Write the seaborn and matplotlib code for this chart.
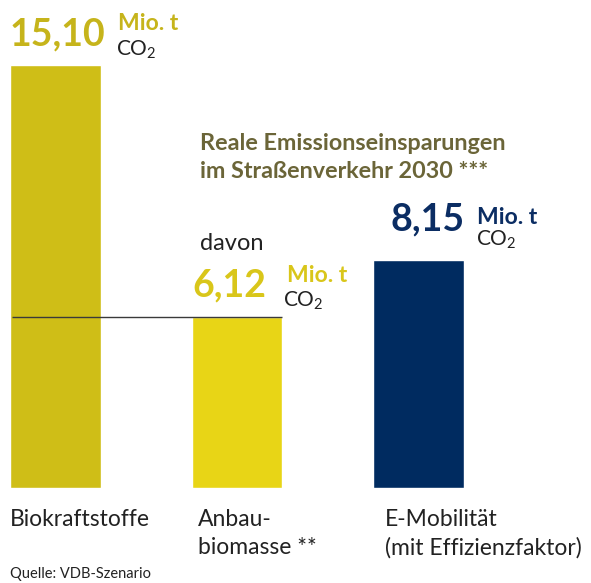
"""
Reale Emissionseinsparungen im Strassenverkehr 2030 - Balkendiagramm
"""

import matplotlib
matplotlib.use("Agg")
import matplotlib.pyplot as plt
import seaborn as sns

# Daten
categories = ["Biokraftstoffe", "Anbau-\nbiomasse **", "E-Mobilität\n(mit Effizienzfaktor)"]
values = [15.10, 6.12, 8.15]
value_labels = ["15,10", "6,12", "8,15"]
bar_colors = ["#CFBE17", "#E8D516", "#002B60"]
text_colors = ["#C6B41B", "#D9C61A", "#0B2D63"]

title_lines = "Reale Emissionseinsparungen\nim Straßenverkehr 2030 ***"
source = "Quelle: VDB-Szenario"

sns.set_theme(style="white")
plt.rcParams["font.family"] = ["Lato", "DejaVu Sans"]
plt.rcParams["mathtext.fontset"] = "custom"
plt.rcParams["mathtext.rm"] = "Lato"

PX = 0.72  # pixel -> points at dpi 100

fig = plt.figure(figsize=(5.91, 5.83), dpi=100)
ax = fig.add_axes([0, 95 / 583, 1, 423 / 583])

bar_w = 0.501
sns.barplot(x=categories, y=values, hue=categories, palette=bar_colors,
            width=bar_w, legend=False, saturation=1, ax=ax)
ax.set_xlim(-55.5 / 181.5, (591 - 55.5) / 181.5)
ax.set_ylim(0, values[0])
ax.axis("off")

# Trennlinie auf Hoehe der Anbaubiomasse
ax.hlines(values[1], -bar_w / 2 + 0.01, 1 + bar_w / 2, color="#3a3a3a", lw=1.0, zorder=5)

# Wertebeschriftungen: (Zahl dx, dy), (Mio.t dx, dy), (CO2 dx, dy) in px
offsets = [
    ((0, 20), (108, 35), (106, 10)),
    ((1, 20), (95, 35), (91, 10)),
    ((17, 29), (104, 36), (103, 14)),
]
for i, (val, lab) in enumerate(zip(values, value_labels)):
    x0 = i - bar_w / 2
    (nx, ny), (mx, my), (cx, cy) = offsets[i]
    ax.annotate(lab, (x0, val), xytext=(nx * PX, ny * PX), textcoords="offset points",
                fontsize=27, fontweight="bold", color=text_colors[i],
                ha="left", va="baseline", annotation_clip=False)
    ax.annotate("Mio. t", (x0, val), xytext=(mx * PX, my * PX), textcoords="offset points",
                fontsize=16.5, fontweight="bold", color=text_colors[i],
                ha="left", va="baseline", annotation_clip=False)
    ax.annotate("CO$_2$", (x0, val), xytext=(cx * PX, cy * PX), textcoords="offset points",
                fontsize=15, color="#222222",
                ha="left", va="baseline", annotation_clip=False)

ax.annotate("davon", (1 - bar_w / 2, values[1]), xytext=(8 * PX, 67 * PX),
            textcoords="offset points", fontsize=17, color="#222222",
            ha="left", va="baseline", annotation_clip=False)

# Kategorien unter den Balken
label_dx = [0, 6, 12]
for i, cat in enumerate(categories):
    ax.annotate(cat, (i - bar_w / 2, 0), xytext=(label_dx[i] * PX, -21 * PX),
                textcoords="offset points", fontsize=16.5, color="#222222",
                ha="left", va="top", linespacing=1.42, annotation_clip=False)

fig.text(200 / 591, 1 - 178 / 583, title_lines, fontsize=16.8, fontweight="bold",
         color="#6B6538", ha="left", va="baseline", linespacing=1.42)
fig.text(10 / 591, 1 - 578 / 583, source, fontsize=10.5, color="#222222",
         ha="left", va="baseline")

fig.savefig("out.png", dpi=100)
